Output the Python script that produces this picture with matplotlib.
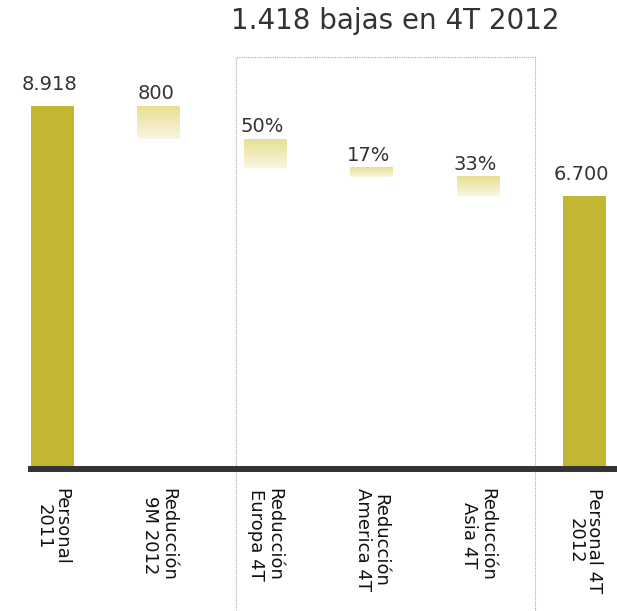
import numpy as np
import matplotlib
matplotlib.use("Agg")
import matplotlib.pyplot as plt
from matplotlib.lines import Line2D

categories = ["Personal\n2011", "Reducción\n9M 2012", "Reducción\nEuropa 4T",
              "Reducción\nAmerica 4T", "Reducción\nAsia 4T", "Personal 4T\n2012"]
start_total = 8918
reductions = [800, 709, 241, 468]
end_total = 6700
value_labels = ["8.918", "800", "50%", "17%", "33%", "6.700"]
title = "1.418 bajas en 4T 2012"

solid = "#c1b731"
grad_top = np.array([232, 223, 145]) / 255
grad_bot = np.array([249, 246, 226]) / 255
txt = "#333333"

W, H = 617, 611
fig = plt.figure(figsize=(W / 100, H / 100), dpi=100)
ax = fig.add_axes([31 / W, 142 / H, 586 / W, 419 / H])
ax.patch.set_visible(False)

x = np.arange(len(categories))
bw = 0.404

# solid bars
ax.bar([x[0], x[-1]], [start_total, end_total], width=bw, color=solid, zorder=2)

# floating bars with gradient
tops = start_total - np.concatenate([[0], np.cumsum(reductions)[:-1]])
bottoms = tops - np.array(reductions)
grad = np.linspace(0, 1, 256)[:, None]
img = grad_top[None, None, :] * (1 - grad[:, :, None]) + grad_bot[None, None, :] * grad[:, :, None]
for i, (t, b) in enumerate(zip(tops, bottoms)):
    xi = x[i + 1]
    ax.imshow(img, extent=[xi - bw / 2, xi + bw / 2, b, t], origin="upper",
              aspect="auto", zorder=2, interpolation="bilinear")

ax.set_xlim(-bw / 2, 5.305)
ax.set_ylim(0, 10300)

# value labels
all_tops = [start_total] + list(tops) + [end_total]
for i, (t, lab) in enumerate(zip(all_tops, value_labels)):
    off = 12 if i in (0, len(categories) - 1) else 5
    ax.annotate(lab, (x[i], t), xytext=(-2, off), textcoords="offset points",
                ha="center", va="baseline", fontsize=14, color=txt)

for s in ["top", "right", "left"]:
    ax.spines[s].set_visible(False)
ax.spines["bottom"].set_linewidth(4.3)
ax.spines["bottom"].set_color("#333333")
ax.spines["bottom"].set_zorder(3)
ax.set_yticks([])
ax.set_xticks(x)
ax.set_xticklabels(categories, rotation=270, ha="center", va="top",
                   multialignment="center", linespacing=1.0, fontsize=13, color="#111111")
ax.tick_params(axis="x", length=0, pad=14)

# dotted box around 4T categories (drawn beneath the axes)
bx0, bx1, by0, by1 = 236 / W, 535 / W, 1 - 57 / H, -0.01
fig.add_artist(Line2D([bx0, bx0, bx1, bx1], [by1, by0, by0, by1], transform=fig.transFigure,
                      color="#a8a8a8", lw=0.8, linestyle=(0, (1, 1)), zorder=-1))

fig.text(395 / W, 1 - 29 / H, title, ha="center", va="baseline", fontsize=20, color=txt)

fig.savefig("out.png", dpi=100)
